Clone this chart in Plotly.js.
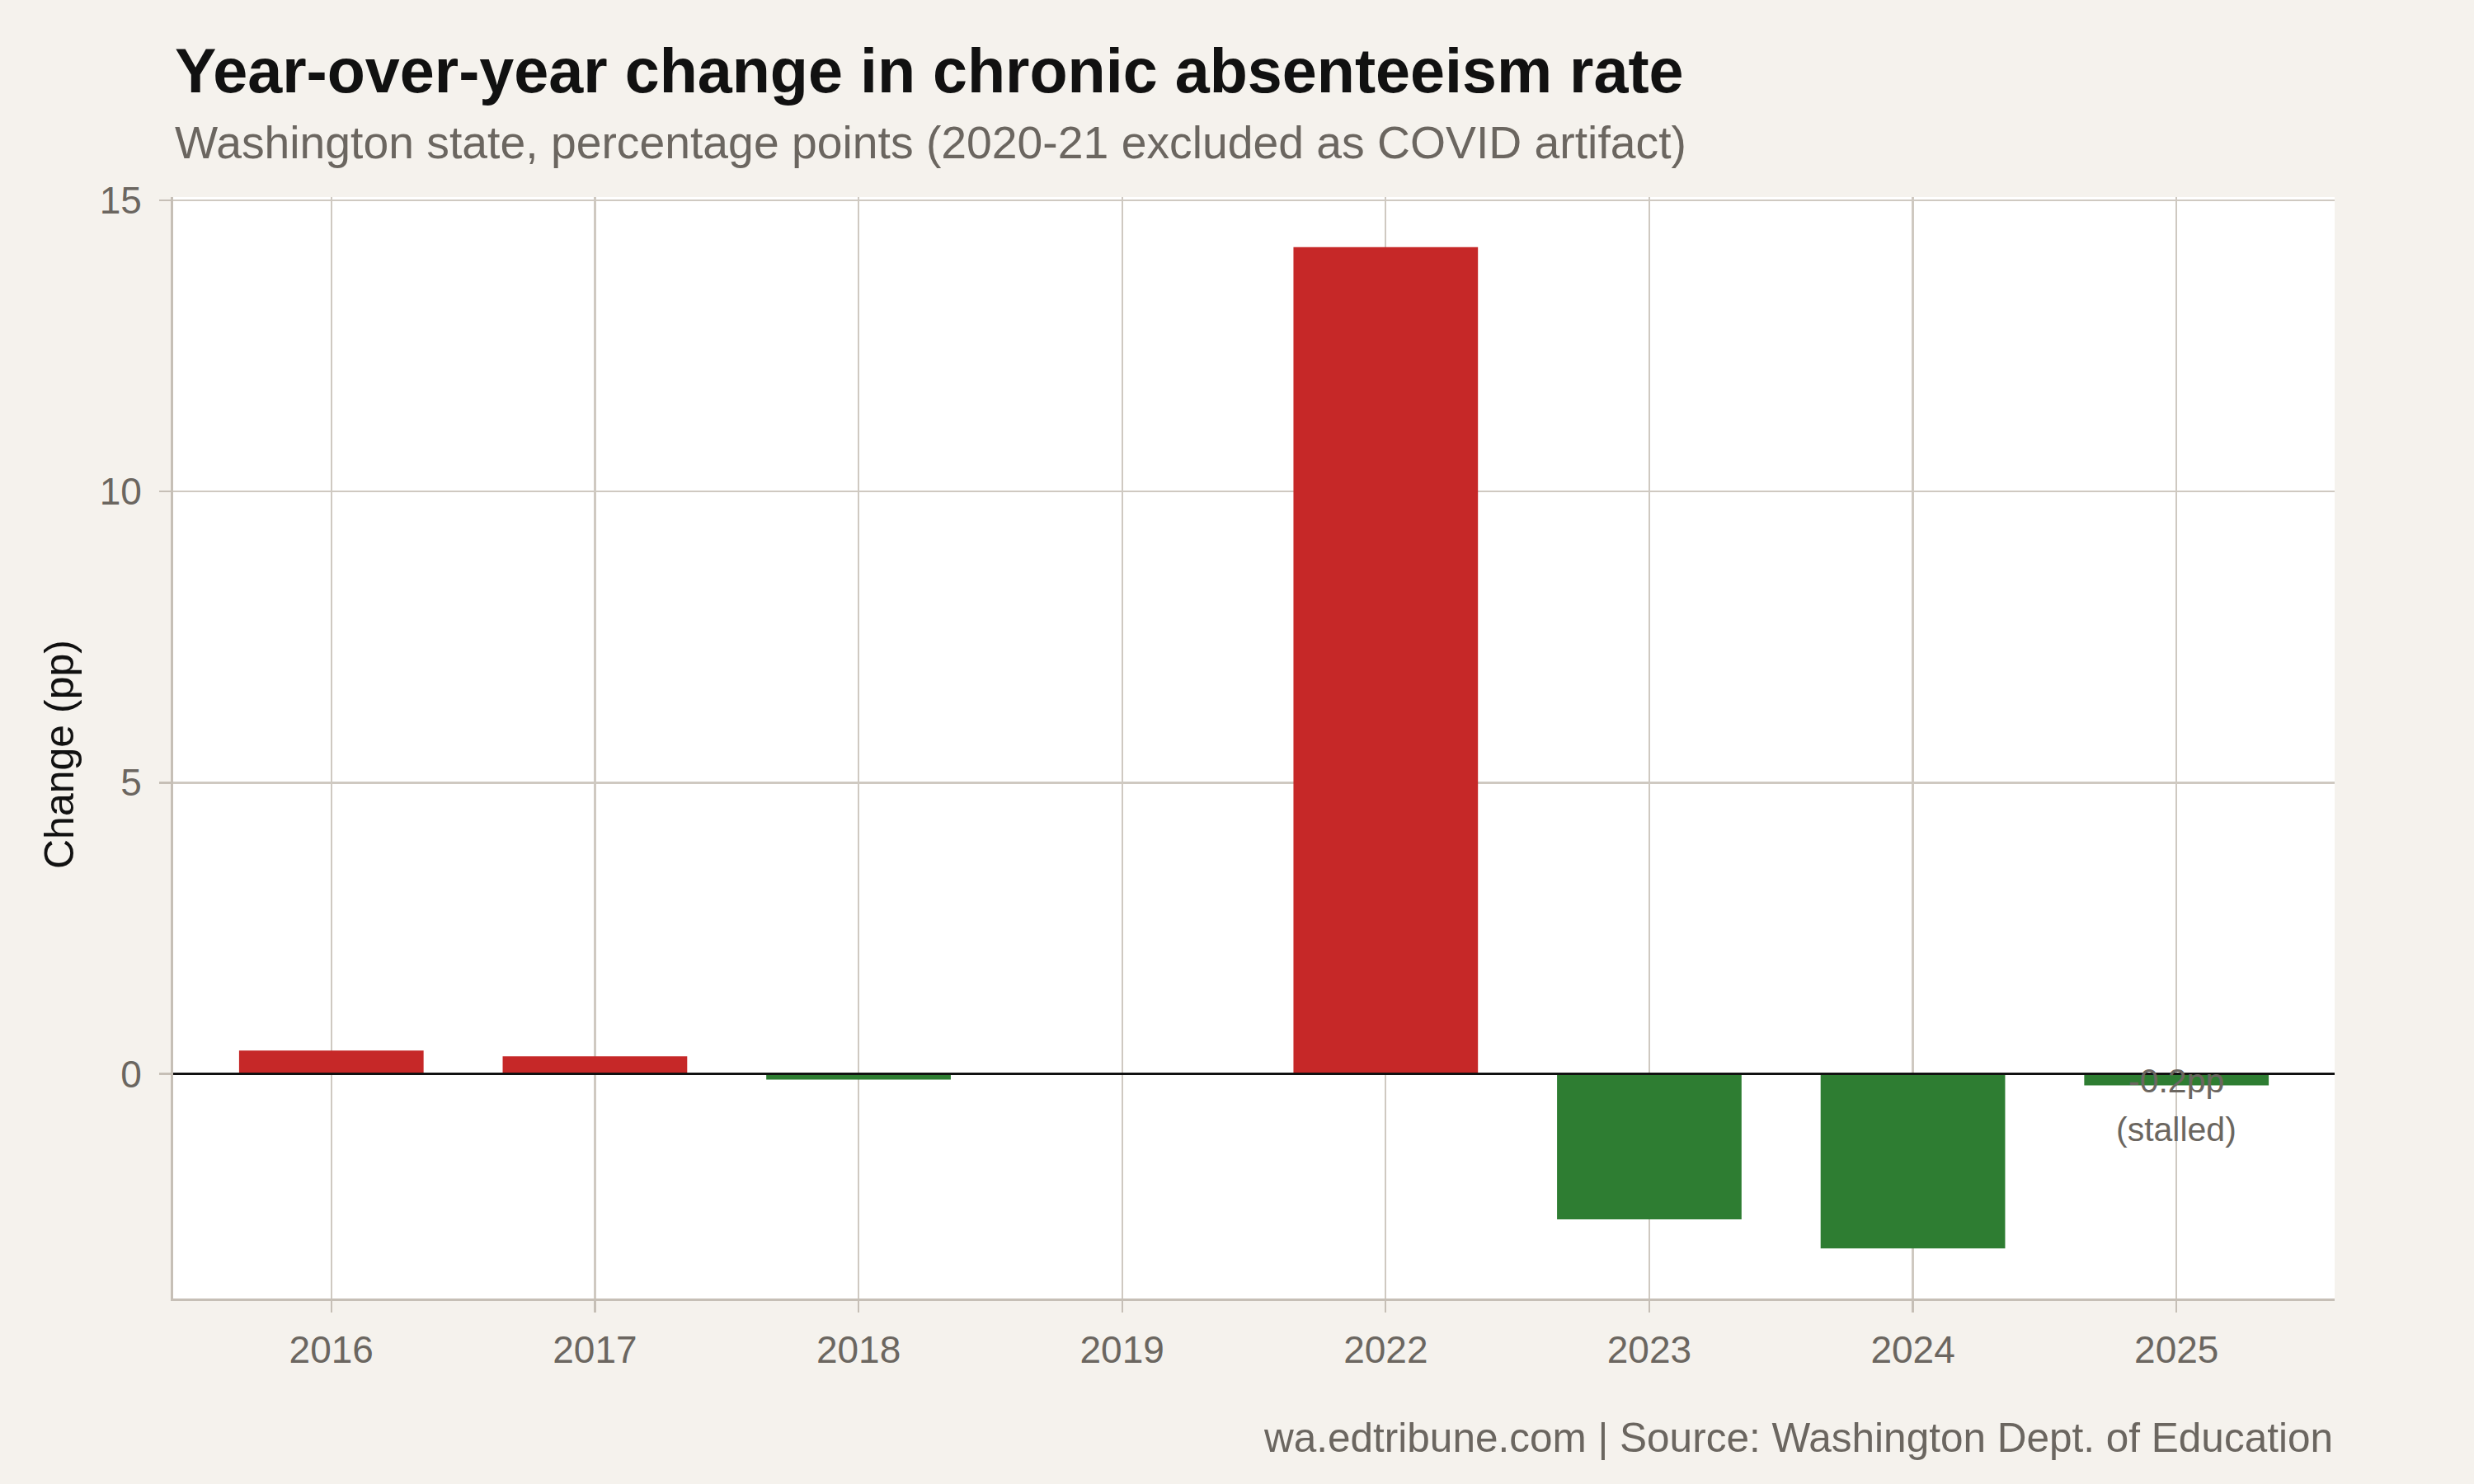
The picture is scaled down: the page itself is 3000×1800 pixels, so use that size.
<!DOCTYPE html>
<html><head><meta charset="utf-8">
<script src="https://cdn.plot.ly/plotly-3.0.1.min.js"></script>
<style>html,body{margin:0;padding:0;background:#F5F2ED}</style>
</head><body><div id="chart" style="width:3000px;height:1800px"></div>
<script>
const years = ['2016','2017','2018','2019','2022','2023','2024','2025'];
const changes = [0.4, 0.3, -0.1, 0.0, 14.2, -2.5, -3.0, -0.2];
const yTickVals = [0, 5, 10, 15];
const noteYear = '2025';
const noteText = 'pp';
const noteSub = '(stalled)';

const RED = '#C62828', GREEN = '#2E7D32';
const GRAY = '#6B6660', GRID = '#CFC9C1', AXIS = '#C6BFB6';
const FONT = '"Liberation Sans", Arial, Helvetica, sans-serif';

const W = 3000, H = 1800;
const M = {l: 210, r: 169, t: 239, b: 225};
const PH = H - M.t - M.b, PW = W - M.l - M.r;
const py = Y => (H - M.b - Y) / PH;   // pixel -> paper y
const px = X => (X - M.l) / PW;       // pixel -> paper x

const vmin = Math.min(...changes), vmax = Math.max(...changes);
const pad = (vmax - vmin) * 0.05;

const trace = {
  type: 'bar', x: years, y: changes, width: 0.7,
  marker: {color: changes.map(v => v > 0 ? RED : GREEN), line: {width: 0}},
  hoverinfo: 'x+y'
};

const noteIdx = years.indexOf(noteYear);
const layout = {
  width: W, height: H, margin: M,
  paper_bgcolor: '#F5F2ED', plot_bgcolor: '#FFFFFF',
  font: {family: FONT, color: GRAY},
  showlegend: false,
  xaxis: {
    type: 'category', range: [-0.6, years.length - 0.4],
    showgrid: true, gridcolor: GRID, gridwidth: 2.3,
    ticks: 'outside', ticklen: 14, tickwidth: 2.3, tickcolor: AXIS,
    showline: true, linecolor: AXIS, linewidth: 3,
    tickfont: {size: 46, color: GRAY, family: FONT}, ticklabelstandoff: 6,
    fixedrange: true
  },
  yaxis: {
    range: [vmin - pad, vmax + pad], tickvals: yTickVals,
    showgrid: true, gridcolor: GRID, gridwidth: 2.3, zeroline: false,
    ticks: 'outside', ticklen: 14, tickwidth: 2.3, tickcolor: AXIS,
    showline: true, linecolor: AXIS, linewidth: 3,
    tickfont: {size: 46, color: GRAY, family: FONT}, ticklabelstandoff: 12,
    fixedrange: true
  },
  shapes: [{type: 'line', xref: 'paper', x0: 0, x1: 1, yref: 'y', y0: 0, y1: 0,
            line: {color: '#111111', width: 3}, layer: 'above'}],
  annotations: [
    {text: '<b>Year-over-year change in chronic absenteeism rate</b>', xref: 'paper', yref: 'paper',
     x: 0, xanchor: 'left', y: py(86), yanchor: 'middle', showarrow: false,
     font: {size: 75.5, color: '#111111', family: FONT}},
    {text: 'Washington state, percentage points (2020-21 excluded as COVID artifact)', xref: 'paper', yref: 'paper',
     x: 0, xanchor: 'left', y: py(173), yanchor: 'middle', showarrow: false,
     font: {size: 55.3, color: GRAY, family: FONT}},
    {text: 'wa.edtribune.com | Source: Washington Dept. of Education', xref: 'paper', yref: 'paper',
     x: 1, xanchor: 'right', y: py(1743), yanchor: 'middle', showarrow: false,
     font: {size: 49.5, color: GRAY, family: FONT}},
    {text: 'Change (pp)', xref: 'paper', yref: 'paper', textangle: -90,
     x: px(72), xanchor: 'center', y: 0.494, yanchor: 'middle', showarrow: false,
     font: {size: 50, color: '#111111', family: FONT}},
    {text: changes[noteIdx].toFixed(1) + noteText, x: noteIdx, y: changes[noteIdx], xref: 'x', yref: 'y',
     yanchor: 'middle', yshift: 6, showarrow: false, font: {size: 41, color: GRAY, family: FONT}},
    {text: noteSub, x: noteIdx, y: changes[noteIdx], xref: 'x', yref: 'y',
     yanchor: 'middle', yshift: -53, showarrow: false, font: {size: 41, color: GRAY, family: FONT}}
  ]
};

Plotly.newPlot('chart', [trace], layout, {displayModeBar: false, staticPlot: true});
</script></body></html>
